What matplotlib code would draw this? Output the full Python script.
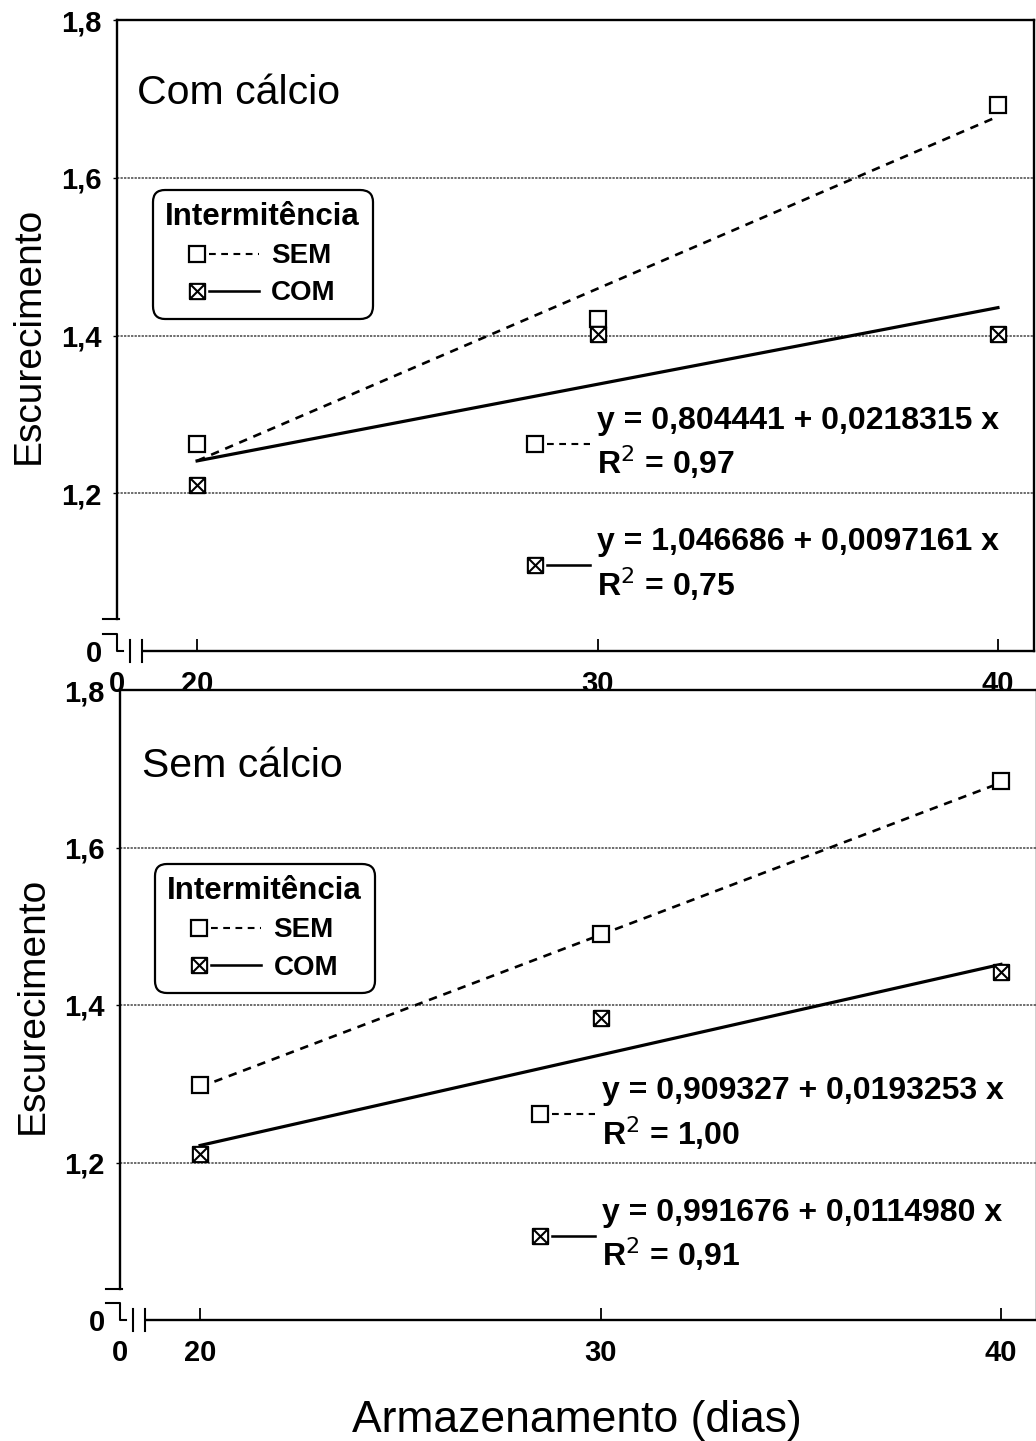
import numpy as np
import matplotlib
matplotlib.use("Agg")
import matplotlib.pyplot as plt
from matplotlib.path import Path
from matplotlib.lines import Line2D
from matplotlib.legend_handler import HandlerBase

plt.rcParams['font.family'] = ['Liberation Sans', 'DejaVu Sans']

# ---------------- data ----------------
days = [20, 30, 40]
panel_titles = ["Com cálcio", "Sem cálcio"]
# observed escurecimento values (SEM / COM intermitência)
com_calcio_sem = [1.262, 1.421, 1.692]
com_calcio_com = [1.210, 1.402, 1.402]
sem_calcio_sem = [1.298, 1.490, 1.685]
sem_calcio_com = [1.211, 1.384, 1.442]
# regression coefficients
com_calcio_intercepts = [0.804441, 1.046686]
com_calcio_slopes = [0.0218315, 0.0097161]
com_calcio_r2 = [0.97, 0.75]
sem_calcio_intercepts = [0.909327, 0.991676]
sem_calcio_slopes = [0.0193253, 0.0114980]
sem_calcio_r2 = [1.00, 0.91]
fit_range = [20, 40]
series_names = ["SEM", "COM"]
legend_title = "Intermitência"
xtick_values = [18, 20, 30, 40]
xtick_labels = ["0", "20", "30", "40"]
ytick_values = [1.0, 1.2, 1.4, 1.6, 1.8]
ytick_labels = ["0", "1,2", "1,4", "1,6", "1,8"]
ylabel = "Escurecimento"
xlabel = "Armazenamento (dias)"

# ---------------- styles ----------------
boxx = Path([(-1, -1), (1, -1), (1, 1), (-1, 1), (-1, -1),
             (-1, -1), (1, 1), (-1, 1), (1, -1)],
            [Path.MOVETO, Path.LINETO, Path.LINETO, Path.LINETO, Path.CLOSEPOLY,
             Path.MOVETO, Path.LINETO, Path.MOVETO, Path.LINETO])
mk_styles = [dict(marker='s', ms=11, mfc='white', mec='black', mew=1.6),
             dict(marker=boxx, ms=11, mfc='white', mec='black', mew=1.5)]
ln_styles = [dict(color='black', lw=1.9, ls=(0, (3.2, 2.6))),
             dict(color='black', lw=2.3, ls='-')]


class KeyHandler(HandlerBase):
    def __init__(self, gap=3, **kw):
        super().__init__(**kw)
        self.gap = gap

    def create_artists(self, legend, orig_handle, xdescent, ydescent,
                       width, height, fontsize, trans):
        mk, ln = orig_handle
        y = height / 2.0 - ydescent
        ms = mk.get_markersize()
        x0 = -xdescent + ms / 2.0
        m = Line2D([x0], [y])
        m.update_from(mk)
        m.set_linestyle('None')
        l = Line2D([x0 + ms / 2.0 + self.gap, -xdescent + width], [y, y])
        l.update_from(ln)
        l.set_marker('None')
        l.set_linewidth(ln.get_linewidth() * 0.8)
        m.set_transform(trans)
        l.set_transform(trans)
        return [l, m]


fig = plt.figure(figsize=(10.36, 14.41), dpi=100)
W, H = 1036.0, 1441.0
axes_px = [(117, 20, 651), (120, 690, 1320)]  # left, top, bottom(y=1.0) in px
width_px = 917

panels = [
    (com_calcio_sem, com_calcio_com, com_calcio_intercepts, com_calcio_slopes, com_calcio_r2),
    (sem_calcio_sem, sem_calcio_com, sem_calcio_intercepts, sem_calcio_slopes, sem_calcio_r2),
]
title_pos = [(0.022, 0.885), (0.024, 0.880)]
leg_pos = [(0.039, 0.731), (0.038, 0.724)]
eq_pos = [(0.448, 0.389), (0.450, 0.387)]
ylab_x = [-0.077, -0.076]

for i, (obs_sem, obs_com, icp, slp, r2) in enumerate(panels):
    l, t, b = axes_px[i]
    ax = fig.add_axes([l / W, 1 - b / H, width_px / W, (b - t) / H])
    ax.set_xlim(18, 40.9)
    ax.set_ylim(1.0, 1.8)

    # grid
    for yv in ytick_values[1:-1]:
        ax.axhline(yv, color='#444444', lw=1.1, ls=(0, (1.5, 0.8)), zorder=0.5)

    # observed points and fitted lines
    handles = []
    for j, obs in enumerate([obs_sem, obs_com]):
        xs = np.array(fit_range, dtype=float)
        ax.plot(xs, icp[j] + slp[j] * xs, zorder=2, **ln_styles[j])
        ax.plot(days, obs, ls='None', zorder=3, **mk_styles[j])
        hm = Line2D([], [], ls='None', **mk_styles[j])
        hl = Line2D([], [], **ln_styles[j])
        handles.append((hm, hl))

    # main legend
    leg = ax.legend(handles, series_names, title=legend_title,
                    loc='upper left', bbox_to_anchor=leg_pos[i],
                    handler_map={tuple: KeyHandler(gap=3)},
                    prop={'size': 20, 'weight': 'bold'},
                    title_fontproperties={'size': 22.5, 'weight': 'bold'},
                    handlelength=2.5, handletextpad=0.45, labelspacing=0.4,
                    borderpad=0.45, borderaxespad=0, frameon=True, fancybox=True,
                    edgecolor='black', framealpha=1)
    leg.get_frame().set_linewidth(1.6)
    leg.get_frame().set_boxstyle('round,pad=0,rounding_size=0.45')
    ax.add_artist(leg)

    # equation legend
    eq_labels = [f"y = {icp[j]:.6f} + {slp[j]:.7f} x\nR$^2$ = {r2[j]:.2f}".replace('.', ',')
                 for j in range(2)]
    leg2 = ax.legend(handles, eq_labels, loc='upper left', bbox_to_anchor=eq_pos[i],
                     handler_map={tuple: KeyHandler(gap=3)},
                     prop={'size': 23, 'weight': 'bold'}, handlelength=1.95,
                     handletextpad=0.22, labelspacing=1.45,
                     borderpad=0, borderaxespad=0, frameon=False)
    for txt in leg2.get_texts():
        txt.set_linespacing(1.25)

    # panel title
    ax.text(title_pos[i][0], title_pos[i][1], panel_titles[i], transform=ax.transAxes,
            fontsize=29.5, ha='left', va='center')

    # ticks
    ax.set_xticks(xtick_values)
    ax.set_xticklabels(xtick_labels)
    ax.set_yticks(ytick_values)
    ax.set_yticklabels(ytick_labels)
    ax.tick_params(axis='x', direction='in', length=9, width=1.3, pad=14,
                   labelsize=21)
    ax.tick_params(axis='y', direction='out', length=3, width=1.0, pad=8,
                   labelsize=21)
    for lab in ax.get_xticklabels() + ax.get_yticklabels():
        lab.set_fontweight('bold')
    ax.xaxis.get_major_ticks()[0].tick1line.set_visible(False)
    ax.yaxis.get_major_ticks()[0].tick1line.set_visible(False)

    # spines with axis break
    for s in ax.spines.values():
        s.set_linewidth(1.7)
    ax.spines['left'].set_bounds(1.04, 1.8)
    ax.spines['bottom'].set_bounds(18.65, 40.9)
    deco = dict(color='black', lw=1.5, clip_on=False, zorder=5)
    ax.plot([17.65, 18.05], [1.04, 1.04], **deco)
    ax.plot([17.65, 18.0, 18.0, 18.15], [1.022, 1.022, 1.0, 1.0], **deco)
    ax.plot([18.32, 18.32], [0.986, 1.014], **deco)
    ax.plot([18.62, 18.62], [0.986, 1.014], **deco)

    ax.set_ylabel(ylabel, fontsize=28)
    ax.yaxis.set_label_coords(ylab_x[i], 0.5)

fig.text(0.557, 0.014, xlabel, fontsize=32, ha='center', va='center')

fig.savefig('out.png', dpi=100, facecolor='white')
